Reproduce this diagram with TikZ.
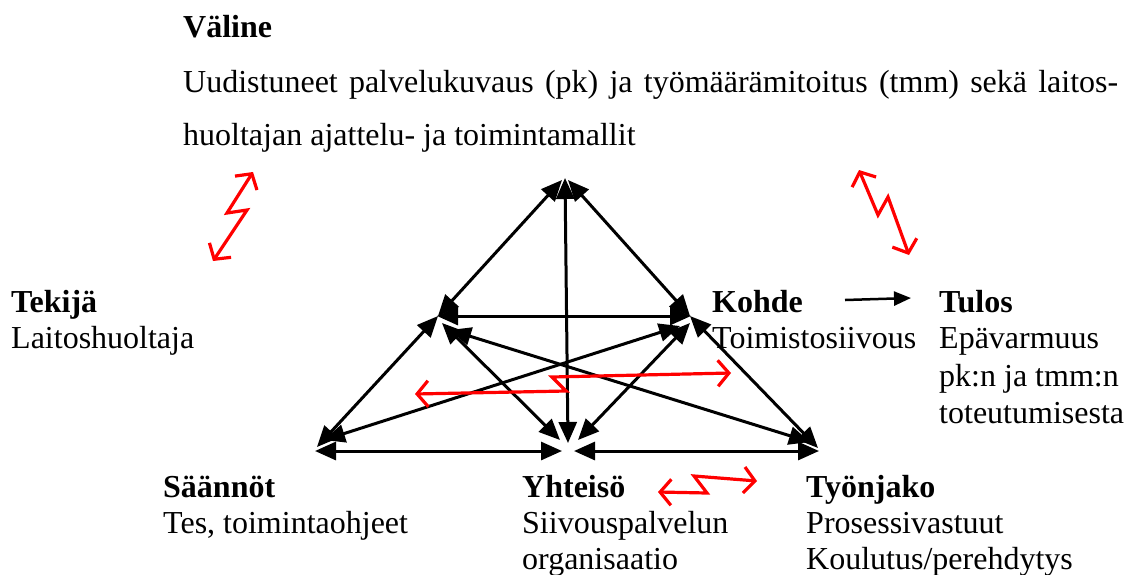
\documentclass[tikz,border=0pt]{standalone}
\usepackage{fontspec}
\setmainfont{Liberation Serif}
\usetikzlibrary{arrows.meta}
\begin{document}
\begin{tikzpicture}[x=1pt,y=-1pt,
  blk/.style={line width=3pt,{Triangle[length=21pt,width=18pt]}-{Triangle[length=21pt,width=18pt]}},
  zig/.style={draw=red,line width=3.2pt,line join=miter,{Straight Barb[length=11pt,width=26pt]}-{Straight Barb[length=11pt,width=26pt]}},
  txt/.style={anchor=base west,inner sep=0pt,font=\fontsize{32}{37}\selectfont},
  hd/.style={anchor=base west,inner sep=0pt,font=\fontsize{32}{37}\selectfont\bfseries}]
\useasboundingbox (0,0) rectangle (1137,574);
% texts
\node[hd]  (valine) at (183,37) {Väline};
\node[txt] (v1) at (183,92) {\makebox[935pt][s]{Uudistuneet palvelukuvaus (pk) ja työmäärämitoitus (tmm) sekä laitos-}};
\node[txt] (v2) at (183,145) {huoltajan ajattelu- ja toimintamallit};
\node[hd]  (tekija) at (11,312) {Tekijä};
\node[txt] (tekija2) at (11,348) {Laitoshuoltaja};
\node[hd]  (kohde) at (712,312) {Kohde};
\node[txt] (kohde2) at (712,348) {Toimistosiivous};
\node[hd]  (tulos) at (939,312) {Tulos};
\node[txt] (tulos2) at (939,348) {Epävarmuus};
\node[txt] (tulos3) at (939,386) {pk:n ja tmm:n};
\node[txt] (tulos4) at (939,423) {toteutumisesta};
\node[hd]  (saannot) at (163,497) {Säännöt};
\node[txt] (saannot2) at (163,533) {Tes, toimintaohjeet};
\node[hd]  (yhteiso) at (522,497) {Yhteisö};
\node[txt] (yhteiso2) at (522,533) {Siivouspalvelun};
\node[txt] (yhteiso3) at (522,569) {organisaatio};
\node[hd]  (tyonjako) at (806,497) {Työnjako};
\node[txt] (tyonjako2) at (806,533) {Prosessivastuut};
\node[txt] (tyonjako3) at (806,569) {Koulutus/perehdytys};
% triangle corners
\coordinate (Ta) at (562,180);
\coordinate (Tb) at (568,180);
\coordinate (Tc) at (565,178);
\coordinate (Sa) at (438,316);
\coordinate (Sb) at (437,316);
\coordinate (Sc) at (442,323);
\coordinate (Sd) at (450,330);
\coordinate (Oa) at (690,316);
\coordinate (Ob) at (691,316);
\coordinate (Oc) at (690,323);
\coordinate (Od) at (680,326);
\coordinate (Ra) at (317,447);
\coordinate (Rb) at (315,451);
\coordinate (Rc) at (324,440);
\coordinate (Ca) at (568,443);
\coordinate (Cb) at (562,451);
\coordinate (Cc) at (574,451);
\coordinate (Cd) at (560,440);
\coordinate (Ce) at (578,440);
\coordinate (Da) at (818,448);
\coordinate (Db) at (819,451);
\coordinate (Dc) at (810,442);
\draw[blk] (Ta) -- (Sa);
\draw[blk] (Tb) -- (Oa);
\draw[blk] (Tc) -- (Ca);
\draw[blk] (Sb) -- (Ob);
\draw[blk] (Sa) -- (Ra);
\draw[blk] (Oa) -- (Da);
\draw[blk] (Rb) -- (Cb);
\draw[blk] (Cc) -- (Db);
\draw[blk] (Sc) -- (Cd);
\draw[blk] (Oc) -- (Ce);
\draw[blk] (Sd) -- (Dc);
\draw[blk] (Od) -- (Rc);
% kohde -> tulos
\coordinate (kt1) at (845,300);
\coordinate (kt2) at (911,298);
\draw[line width=2.5pt,-{Triangle[length=17pt,width=14pt]}] (kt1) -- (kt2);
% red zigzags
\coordinate (z1a) at (213,261);
\coordinate (z1b) at (253,172);
\draw[zig] (z1a) -- (247,210) -- (227,213) -- (z1b);
\coordinate (z2a) at (859,170);
\coordinate (z2b) at (909,255);
\draw[zig] (z2a) -- (878,215) -- (888,197) -- (z2b);
\coordinate (z3a) at (415,394);
\coordinate (z3b) at (731,373);
\draw[zig] (z3a) -- (566,391) -- (552,377) -- (z3b);
\coordinate (z4a) at (658,492);
\coordinate (z4b) at (757,481);
\draw[zig] (z4a) -- (707,493) -- (694,476) -- (z4b);
\end{tikzpicture}
\end{document}
